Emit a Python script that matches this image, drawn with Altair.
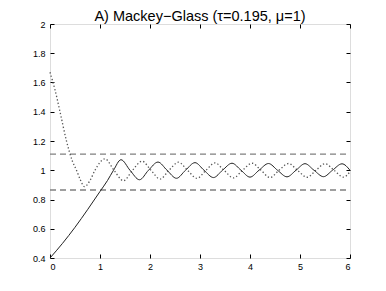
import altair as alt
import pandas as pd

# solid curve
t_solid = [0, 0.25, 0.5, 0.75, 1.0, 1.15, 1.27, 1.42, 1.6, 1.79, 1.97, 2.16, 2.34, 2.53, 2.71,
           2.9, 3.08, 3.27, 3.45, 3.64, 3.82, 4.0, 4.18, 4.37, 4.55, 4.74, 4.92, 5.1, 5.28,
           5.47, 5.65, 5.84, 6.0]
v_solid = [0.40, 0.50, 0.61, 0.73, 0.855, 0.93, 1.0, 1.072, 1.0, 0.935, 1.0, 1.056, 1.0, 0.945, 1.0,
           1.052, 1.0, 0.95, 1.0, 1.048, 1.0, 0.953, 1.0, 1.046, 1.0, 0.955, 1.0, 1.045, 1.0,
           0.956, 1.0, 1.044, 1.0]

# dotted curve
t_dot = [0, 0.1, 0.2, 0.33, 0.45, 0.53, 0.6, 0.69, 0.8, 0.9, 1.1, 1.28, 1.47, 1.65, 1.84, 2.02,
         2.2, 2.38, 2.57, 2.75, 2.94, 3.12, 3.3, 3.48, 3.67, 3.85, 4.04, 4.22, 4.4, 4.58, 4.77,
         4.95, 5.14, 5.32, 5.5, 5.68, 5.87, 6.0]
v_dot = [1.67, 1.55, 1.40, 1.2, 1.06, 1.0, 0.94, 0.888, 0.93, 1.0, 1.078, 1.0, 0.928, 1.0, 1.062, 1.0,
         0.94, 1.0, 1.055, 1.0, 0.945, 1.0, 1.05, 1.0, 0.948, 1.0, 1.048, 1.0, 0.95, 1.0, 1.046,
         1.0, 0.952, 1.0, 1.045, 1.0, 0.953, 0.99]

# dashed bounds
band_levels = [1.11, 0.865]
band_start = [0, 0]
band_end = [6, 6]

x_ticks = [0, 1, 2, 3, 4, 5, 6]
y_ticks = [0.4, 0.6, 0.8, 1.0, 1.2, 1.4, 1.6, 1.8, 2.0]
title_text = "A) Mackey\u2212Glass (\u03c4=0.195, \u03bc=1)"

W, H = 300, 234
FONT = "Liberation Sans"

solid_df = pd.DataFrame({"t": t_solid, "v": v_solid})
dot_df = pd.DataFrame({"t": t_dot, "v": v_dot})
band_df = pd.DataFrame({"t": band_start, "t2": band_end, "v": band_levels})

xs = alt.Scale(domain=[0, 6], nice=False, zero=False)
ys = alt.Scale(domain=[0.4, 2.0], nice=False, zero=False)

# layer 1: main labelled axes (bottom/left), no ticks
x_main = alt.Axis(orient="bottom", values=x_ticks, format="~g", ticks=False, grid=False,
                  labelFont=FONT, labelFontSize=9, labelColor="black", labelPadding=4,
                  domain=False, title=None)
y_main = alt.Axis(orient="left", values=y_ticks, format="~g", ticks=False, grid=False,
                  labelFont=FONT, labelFontSize=9, labelColor="black", labelPadding=5,
                  domain=False, title=None)

# inward ticks at bottom / left
x_in_bottom = alt.Axis(orient="top", offset=-H, values=x_ticks, labels=False, ticks=True,
                       tickSize=4, tickColor="black", domain=False, grid=False, title=None)
y_in_left = alt.Axis(orient="right", offset=-W, values=y_ticks, labels=False, ticks=True,
                     tickSize=4, tickColor="black", domain=False, grid=False, title=None)

# inward ticks at top / right
x_in_top = alt.Axis(orient="bottom", offset=-H, values=x_ticks, labels=False, ticks=True,
                    tickSize=4, tickColor="black", domain=False, grid=False, title=None)
y_in_right = alt.Axis(orient="left", offset=-W, values=y_ticks, labels=False, ticks=True,
                      tickSize=4, tickColor="black", domain=False, grid=False, title=None)

solid = alt.Chart(solid_df).mark_line(color="#222222", strokeWidth=1, interpolate="monotone").encode(
    x=alt.X("t:Q", scale=xs, axis=x_main),
    y=alt.Y("v:Q", scale=ys, axis=y_main),
)

dotted = alt.Chart(dot_df).mark_line(color="#555555", strokeWidth=1.3, strokeDash=[1.3, 2.2],
                                      interpolate="monotone").encode(
    x=alt.X("t:Q", scale=xs, axis=x_in_bottom),
    y=alt.Y("v:Q", scale=ys, axis=y_in_left),
)

bands = alt.Chart(band_df).mark_rule(color="#808080", strokeWidth=1.3, strokeDash=[6, 4]).encode(
    x=alt.X("t:Q", scale=xs, axis=x_in_top),
    x2="t2:Q",
    y=alt.Y("v:Q", scale=ys, axis=y_in_right),
)

chart = alt.layer(bands, dotted, solid).resolve_axis(
    x="independent", y="independent"
).properties(
    width=W,
    height=H,
    title=alt.TitleParams(title_text, font=FONT, fontSize=14.5, fontWeight="normal",
                          color="black", anchor="middle", offset=-4),
    autosize=alt.AutoSizeParams(type="none"),
    padding={"left": 42, "top": 16, "right": 28, "bottom": 25},
).configure_view(
    stroke="black", strokeWidth=1
).configure(background="white")

chart.save("out.html", embed_options={"renderer": "svg", "actions": False})
